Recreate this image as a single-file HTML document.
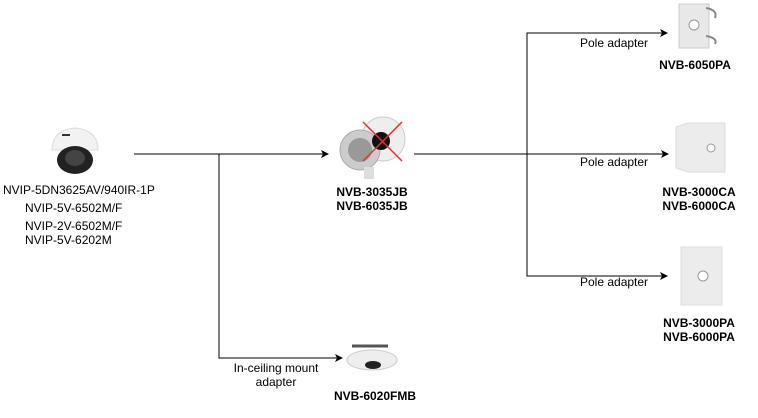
<!DOCTYPE html>
<html><head><meta charset="utf-8"><style>
html,body{margin:0;padding:0;background:#fff;}
svg{display:block;}
text{font-family:"Liberation Sans",Arial,sans-serif;font-size:12px;fill:#000;}
.b{font-weight:bold;}
</style></head><body>
<svg width="758" height="418" viewBox="0 0 758 418" xmlns="http://www.w3.org/2000/svg">
<defs><marker id="a" markerWidth="8" markerHeight="8" refX="7" refY="4" orient="auto" markerUnits="userSpaceOnUse"><path d="M0,0 L8,4 L0,8 L2,4 z" fill="#000"/></marker></defs>
<g stroke="#000" stroke-width="1" fill="none">
<path d="M134,154 H328" marker-end="url(#a)"/>
<path d="M219,154 V358 H342" marker-end="url(#a)"/>
<path d="M414,154 H668" marker-end="url(#a)"/>
<path d="M527,154 V33 H667" marker-end="url(#a)"/>
<path d="M527,154 V276 H667" marker-end="url(#a)"/>
</g>
<!-- camera -->
<g>
<path d="M52,150 Q52,130 75,128 Q98,130 98,150 Z" fill="#f2f2f2" stroke="#ddd"/>
<ellipse cx="75" cy="160" rx="18" ry="14" fill="#222"/>
<ellipse cx="75" cy="158" rx="10" ry="8" fill="#444"/>
<rect x="62" y="134" width="8" height="2" fill="#333"/>
</g>
<text x="3" y="194">NVIP-5DN3625AV/940IR-1P</text>
<text x="25" y="212">NVIP-5V-6502M/F</text>
<text x="25" y="230">NVIP-2V-6502M/F</text>
<text x="25" y="244">NVIP-5V-6202M</text>
<!-- junction box -->
<g>
<circle cx="383" cy="139" r="22" fill="#eee" stroke="#ccc"/>
<circle cx="360" cy="150" r="20" fill="#ccc" stroke="#aaa"/>
<circle cx="360" cy="150" r="12" fill="#999"/>
<rect x="364" y="167" width="10" height="12" fill="#ddd"/>
<circle cx="381" cy="141" r="9" fill="#111"/>
<path d="M363,122 L402,161 M402,122 L363,161" stroke="#d33" stroke-width="1.5"/>
</g>
<text class="b" x="372" y="196" text-anchor="middle">NVB-3035JB</text>
<text class="b" x="372" y="210" text-anchor="middle">NVB-6035JB</text>
<!-- ceiling -->
<g>
<path d="M352,346 L388,346" stroke="#555" stroke-width="3"/>
<ellipse cx="372" cy="360" rx="25" ry="10" fill="#eee" stroke="#ccc"/>
<ellipse cx="373" cy="365" rx="8" ry="4" fill="#222"/>
</g>
<text x="276" y="372" text-anchor="middle">In-ceiling mount</text>
<text x="276" y="386" text-anchor="middle">adapter</text>
<text class="b" x="375" y="400" text-anchor="middle">NVB-6020FMB</text>
<!-- pole adapter -->
<g>
<rect x="679" y="4" width="30" height="44" fill="#e8e8e8" stroke="#ccc"/>
<path d="M706,8 Q718,10 715,18 M706,36 Q718,38 715,44" stroke="#888" fill="none" stroke-width="2"/>
<circle cx="694" cy="25" r="5" fill="#fff" stroke="#999"/>
</g>
<text x="580" y="47">Pole adapter</text>
<text class="b" x="695" y="69" text-anchor="middle">NVB-6050PA</text>
<!-- corner adapter -->
<g>
<path d="M676,127 L688,123 L725,123 L725,172 L688,172 L676,168 Z" fill="#ececec" stroke="#ddd"/>
<circle cx="711" cy="148" r="4" fill="#fff" stroke="#999"/>
</g>
<text x="580" y="166">Pole adapter</text>
<text class="b" x="699" y="196" text-anchor="middle">NVB-3000CA</text>
<text class="b" x="699" y="210" text-anchor="middle">NVB-6000CA</text>
<!-- pole plate -->
<g>
<rect x="681" y="247" width="41" height="58" fill="#ececec" stroke="#ddd"/>
<circle cx="703" cy="276" r="5" fill="#fff" stroke="#999"/>
</g>
<text x="580" y="286">Pole adapter</text>
<text class="b" x="699" y="327" text-anchor="middle">NVB-3000PA</text>
<text class="b" x="699" y="341" text-anchor="middle">NVB-6000PA</text>
</svg>
</body></html>
